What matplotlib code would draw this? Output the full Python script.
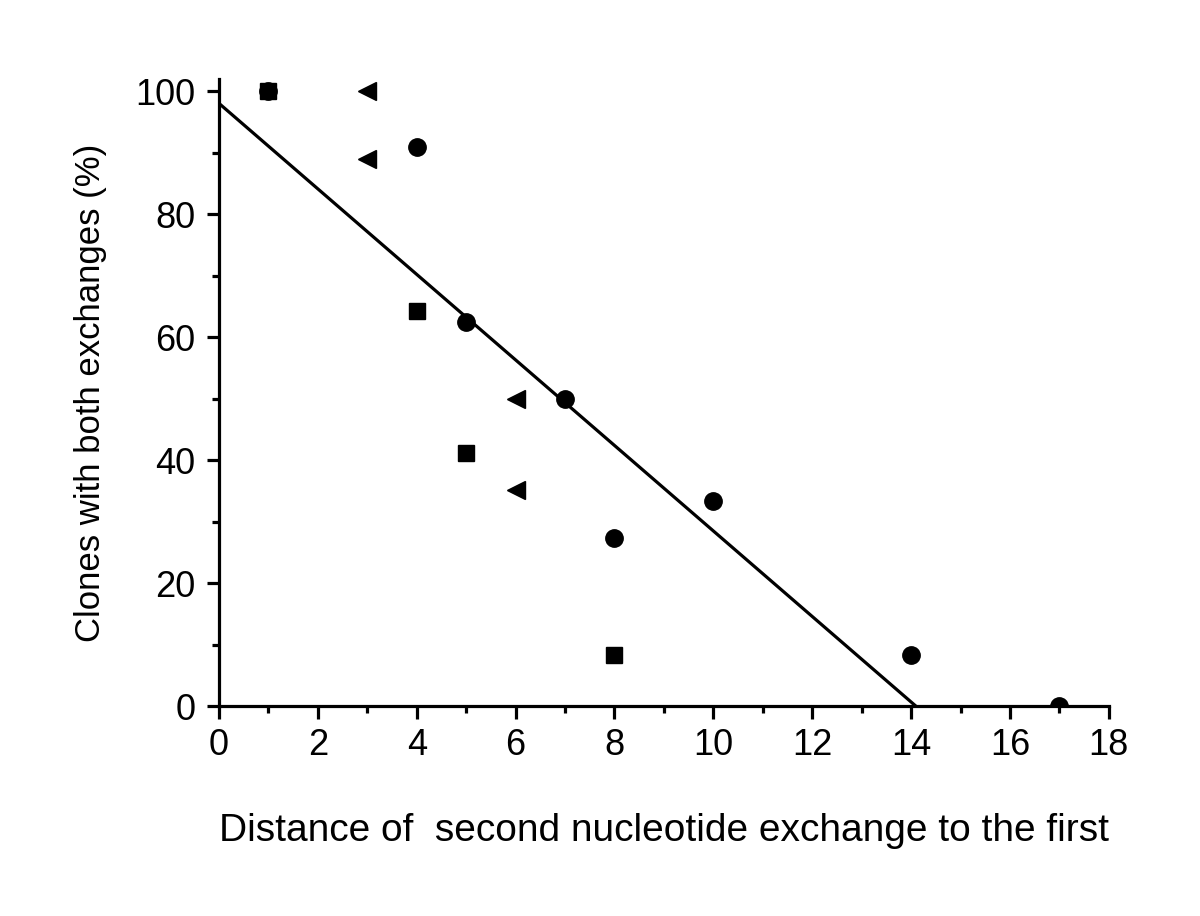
import matplotlib
matplotlib.use("Agg")
import matplotlib.pyplot as plt
from matplotlib.ticker import MultipleLocator

plt.rcParams['font.family'] = ['Liberation Sans', 'DejaVu Sans']

circle_x = [1, 4, 5, 7, 8, 10, 14, 17]
circle_y = [100, 90.9, 62.5, 50, 27.3, 33.3, 8.3, 0]
square_x = [1, 4, 5, 8]
square_y = [100, 64.3, 41.2, 8.3]
tri_x = [3, 3, 6, 6]
tri_y = [100, 88.9, 50, 35.1]
fit_x = [0, 14.1]
fit_y = [98.0, 0]

fig = plt.figure(figsize=(12, 9.16), dpi=100)
ax = fig.add_axes([0.1825, 0.229, 0.924 - 0.1825, 0.914 - 0.229])

ax.plot(fit_x, fit_y, color='black', lw=2.3, zorder=2)
ax.plot(square_x, square_y, 's', color='black', ms=11.5, zorder=3)
ax.plot(circle_x, circle_y, 'o', color='black', ms=12.5, zorder=3)
ax.plot(tri_x, tri_y, '<', color='black', ms=13.5, zorder=3)

ax.set_xlim(0, 18)
ax.set_ylim(0, 102)
ax.xaxis.set_major_locator(MultipleLocator(2))
ax.xaxis.set_minor_locator(MultipleLocator(1))
ax.yaxis.set_minor_locator(MultipleLocator(10))
ax.set_yticks([0, 20, 40, 60, 80, 100])

for s in ['top', 'right']:
    ax.spines[s].set_visible(False)
for s in ['left', 'bottom']:
    ax.spines[s].set_linewidth(2.3)

ax.tick_params(which='major', direction='out', length=9, width=2.3, labelsize=26)
ax.tick_params(which='minor', direction='out', length=5, width=2.3)
ax.tick_params(axis='x', which='major', pad=7)
ax.tick_params(axis='y', which='major', pad=8)

ax.set_xlabel('Distance of  second nucleotide exchange to the first', fontsize=28, labelpad=36)
ax.set_ylabel('Clones with both exchanges (%)', fontsize=25, labelpad=20)

fig.savefig('out.png', dpi=100)
